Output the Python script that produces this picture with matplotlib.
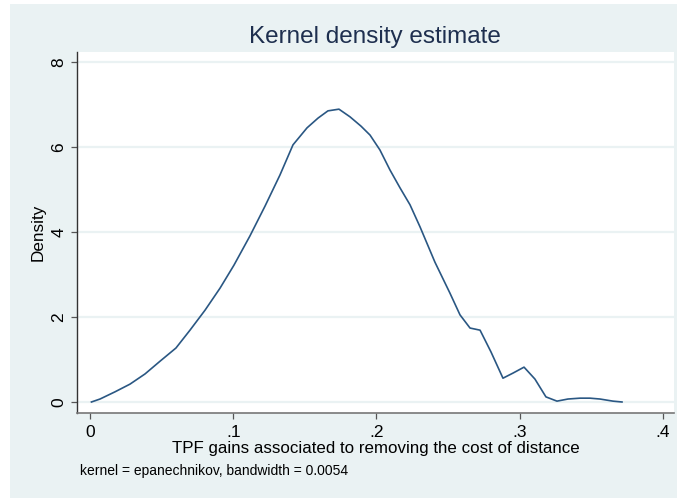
import matplotlib.pyplot as plt
from matplotlib.patches import Rectangle

# density curve
tpf_gain = [0.001, 0.0070, 0.0175, 0.0279, 0.0384, 0.0489, 0.0600, 0.0698,
            0.0803, 0.0908, 0.1005, 0.1117, 0.1222, 0.1326, 0.1417, 0.1515,
            0.1592, 0.1661, 0.1738, 0.1815, 0.1892, 0.1955, 0.2024, 0.2094,
            0.2164, 0.2234, 0.2304, 0.2408, 0.2513, 0.2583, 0.2653, 0.2723,
            0.2799, 0.2883, 0.2953, 0.3030, 0.3106, 0.3183, 0.3260, 0.3337,
            0.3421, 0.3490, 0.3560, 0.3651, 0.3714]
density = [0.0, 0.07, 0.24, 0.42, 0.66, 0.96, 1.27, 1.69,
           2.16, 2.68, 3.22, 3.91, 4.61, 5.34, 6.05, 6.45,
           6.68, 6.85, 6.89, 6.71, 6.49, 6.28, 5.93, 5.46,
           5.04, 4.64, 4.12, 3.29, 2.56, 2.05, 1.74, 1.69,
           1.18, 0.56, 0.68, 0.82, 0.54, 0.12, 0.02, 0.07,
           0.09, 0.09, 0.07, 0.02, 0.0]

xticks = [0, 0.1, 0.2, 0.3, 0.4]
xticklabels = ["0", ".1", ".2", ".3", ".4"]
yticks = [0, 2, 4, 6, 8]

BG = "#eaf2f3"
LINE = "#2a5783"

plt.rcParams["font.family"] = ["Liberation Sans", "DejaVu Sans"]

fig = plt.figure(figsize=(6.78, 4.99), dpi=100, facecolor="white")
# stata-ish outer background, drawn under the axes
bg = Rectangle((10 / 678, 1 / 499), 667 / 678, 494 / 499,
               transform=fig.transFigure, facecolor=BG,
               edgecolor="none", zorder=-10)
fig.patches.append(bg)

ax = fig.add_axes([77 / 678, 86 / 499, 597 / 678, 361 / 499])
ax.set_zorder(1)
ax.set_facecolor("white")
ax.plot(tpf_gain, density, color=LINE, lw=1.2, zorder=3)

ax.set_xlim(-0.00908, 0.4077)
ax.set_ylim(-0.259, 8.235)
ax.set_xticks(xticks)
ax.set_xticklabels(xticklabels)
ax.set_yticks(yticks)
ax.set_yticklabels([str(v) for v in yticks], rotation=90, va="center")
ax.tick_params(axis="both", direction="out", length=4.5, width=0.9,
               color="#555555", labelsize=12.5, labelcolor="black")
ax.tick_params(axis="x", pad=4)
ax.tick_params(axis="y", pad=3)

ax.grid(axis="y", color=BG, lw=1.6, zorder=1)
for side in ["top", "right"]:
    ax.spines[side].set_visible(False)
ax.spines["left"].set_color("#333333")
ax.spines["bottom"].set_color("#777777")
ax.spines["left"].set_linewidth(1.0)
ax.spines["bottom"].set_linewidth(1.2)

ax.set_ylabel("Density", fontsize=12.3, labelpad=4)
ax.set_xlabel("TPF gains associated to removing the cost of distance",
              fontsize=12.2, labelpad=1)
fig.text(375 / 678, 1 - 37 / 499, "Kernel density estimate", fontsize=17.5,
         color="#1e2f4f", ha="center", va="center")
fig.text(80 / 678, 1 - 471 / 499,
         "kernel = epanechnikov, bandwidth = 0.0054", fontsize=10,
         ha="left", va="center")

fig.savefig("out.png", dpi=100, facecolor="white")
